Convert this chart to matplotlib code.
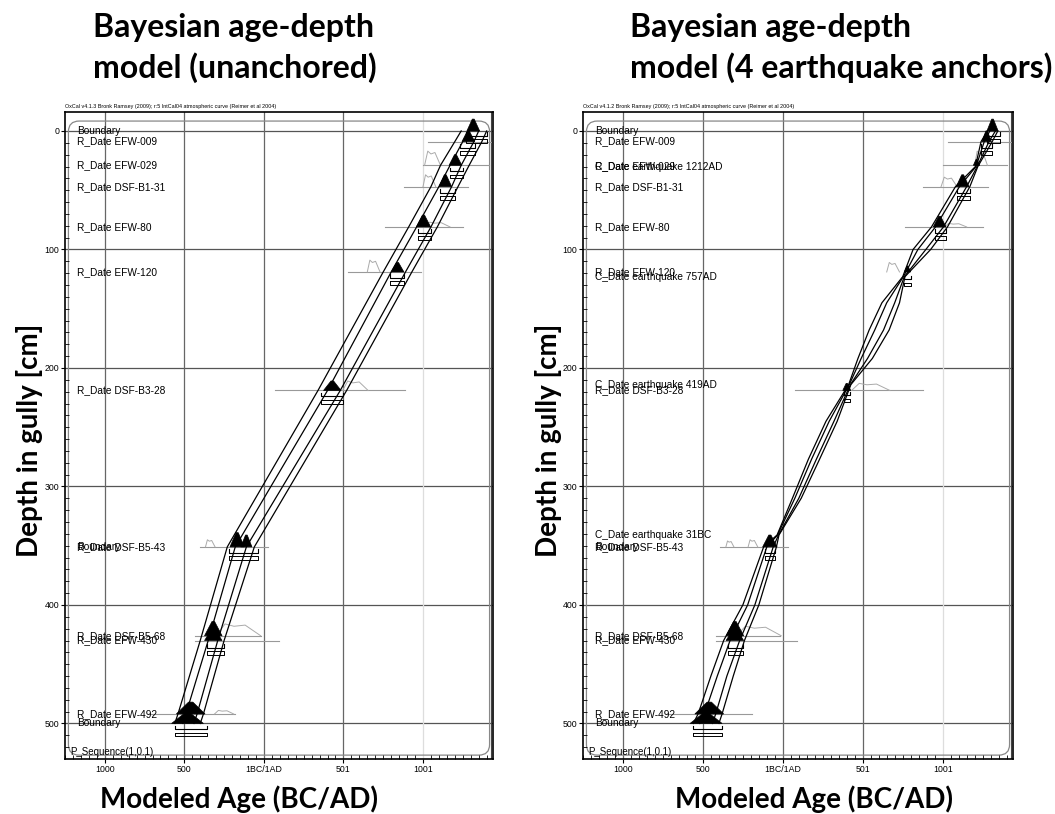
import matplotlib
matplotlib.use("Agg")
import matplotlib.pyplot as plt
from matplotlib.patches import FancyBboxPatch, Polygon

# calendar axis (0 = 1BC/1AD)
age_ticks = [-1000, -500, 0, 500, 1000]
age_tick_labels = ["1000", "500", "1BC/1AD", "501", "1001"]
depth_ticks = [0, 100, 200, 300, 400, 500]

# ---------------- left panel: unanchored ----------------
left_header = "OxCal v4.1.3 Bronk Ramsey (2009); r:5 IntCal04 atmospheric curve (Reimer et al 2004)"
left_names = ["Boundary", "R_Date EFW-009", "R_Date EFW-029", "R_Date DSF-B1-31", "R_Date EFW-80",
              "R_Date EFW-120", "R_Date DSF-B3-28", "Boundary", "R_Date DSF-B5-43",
              "R_Date DSF-B5-68", "R_Date EFW-430", "R_Date EFW-492", "Boundary"]
left_name_depth = [0, 9, 29, 47, 81, 119, 219, 351, 351, 426, 430, 492, 500]

# envelope of the age-depth model (95% / 68% bounds)
left_env_depth = [0, 9, 29, 47, 81, 119, 219, 351, 430, 492, 500]
left_lo95 = [1240, 1200, 1110, 1050, 910, 750, 340, -230, -400, -540, -560]
left_lo68 = [1290, 1250, 1170, 1100, 960, 800, 400, -180, -350, -490, -510]
left_hi68 = [1350, 1320, 1240, 1180, 1050, 890, 480, -110, -290, -420, -440]
left_hi95 = [1400, 1370, 1290, 1220, 1090, 930, 520, -60, -250, -380, -400]

# posterior peaks
left_post_depth = [0, 9, 29, 47, 81, 119, 219, 351, 351, 426, 430, 492, 500]
left_post_year = [1316, 1285, 1204, 1140, 1003, 840, 430, -168, -110, -318, -318, -460, -480]
left_post_hw = [40, 40, 40, 40, 45, 40, 55, 45, 35, 55, 55, 90, 100]
left_post_h = [10, 9, 9, 10, 10, 8, 8, 12, 10, 12, 10, 10, 9]

# likelihood ranges (grey lines) and bumps
left_lik_depth = [9, 29, 47, 81, 119, 219, 351, 426, 430, 492]
left_lik_lo = [1034, 1002, 878, 763, 530, 72, -400, -430, -430, -730]
left_lik_hi = [1442, 1412, 1286, 1254, 985, 888, 27, -20, 95, -180]
left_bump_depth = [29, 47, 81, 119, 219, 351, 426, 492]
left_bump_year = [1060, 1040, 1090, 690, 575, -337, -160, -250]
left_bump_hw = [50, 40, 80, 40, 80, 30, 140, 60]
left_bump_h = [12, 10, 4, 10, 8, 6, 10, 3]

# range brackets below posteriors
left_br_depth = [4, 14, 34, 52, 86, 124, 224, 356, 436, 505]
left_br_lo = [1270, 1230, 1170, 1110, 970, 790, 360, -220, -360, -560]
left_br_hi = [1400, 1330, 1250, 1200, 1050, 880, 500, -40, -250, -360]

# ---------------- right panel: 4 earthquake anchors ----------------
right_header = "OxCal v4.1.2 Bronk Ramsey (2009); r:5 IntCal04 atmospheric curve (Reimer et al 2004)"
right_names = ["Boundary", "R_Date EFW-009", "R_Date EFW-029", "C_Date earthquake 1212AD",
               "R_Date DSF-B1-31", "R_Date EFW-80", "R_Date EFW-120", "C_Date earthquake 757AD",
               "C_Date earthquake 419AD", "R_Date DSF-B3-28", "C_Date earthquake 31BC",
               "Boundary", "R_Date DSF-B5-43", "R_Date DSF-B5-68", "R_Date EFW-430",
               "R_Date EFW-492", "Boundary"]
right_name_depth = [0, 9, 30, 30, 47, 81, 119, 123, 214, 219, 341, 351, 351, 426, 430, 492, 500]

right_env_depth = [0, 9, 30, 47, 81, 100, 123, 145, 168, 192, 214, 245, 277, 310, 341, 351, 400, 430, 460, 492, 500]
right_lo95 = [1280, 1240, 1205, 1080, 930, 815, 750, 620, 540, 470, 412, 270, 160, 60, -36, -120, -250, -370, -450, -530, -560]
right_lo68 = [1295, 1260, 1209, 1105, 955, 845, 754, 650, 575, 490, 416, 290, 180, 75, -33, -100, -220, -330, -410, -490, -520]
right_hi68 = [1330, 1290, 1216, 1150, 1005, 895, 760, 700, 630, 530, 423, 320, 210, 100, -27, -60, -175, -270, -350, -420, -440]
right_hi95 = [1345, 1310, 1220, 1170, 1030, 925, 764, 730, 665, 560, 426, 340, 230, 115, -24, -40, -150, -240, -310, -380, -400]

right_post_depth = [0, 9, 29, 47, 81, 119, 219, 351, 426, 430, 492, 500]
right_post_year = [1312, 1275, 1212, 1125, 981, 780, 400, -81, -300, -300, -460, -480]
right_post_hw = [35, 30, 20, 40, 40, 20, 25, 45, 55, 55, 90, 100]
right_post_h = [10, 9, 5, 10, 9, 5, 6, 10, 12, 10, 10, 9]

right_lik_depth = [9, 29, 47, 81, 219, 351, 426, 430, 492]
right_lik_lo = [1031, 1000, 875, 762, 75, -394, -420, -420, -730]
right_lik_hi = [1437, 1400, 1281, 1250, 875, 31, -20, 90, -190]
right_bump_depth = [29, 47, 81, 119, 219, 351, 351, 426]
right_bump_year = [1240, 1040, 1080, 690, 550, -331, -187, -150]
right_bump_hw = [40, 50, 70, 40, 120, 25, 30, 140]
right_bump_h = [12, 8, 3, 8, 6, 5, 6, 8]

right_br_depth = [4, 14, 52, 86, 125, 223, 356, 436, 505]
right_br_lo = [1280, 1240, 1090, 950, 760, 380, -110, -340, -560]
right_br_hi = [1360, 1310, 1170, 1020, 800, 420, -50, -250, -380]

LABEL_FONT = ["Liberation Sans", "DejaVu Sans"]
TITLE_FONT = ["Lato", "DejaVu Sans"]


def draw_panel(ax, header, names, name_depth, env_depth, lo95, lo68, hi68, hi95,
               post_depth, post_year, post_hw, post_h,
               lik_depth, lik_lo, lik_hi, bump_depth, bump_year, bump_hw, bump_h,
               br_depth, br_lo, br_hi):
    ax.set_xlim(-1250, 1440)
    ax.set_ylim(530, -16)

    # grid
    for d in depth_ticks:
        ax.axhline(d, color="#555555", lw=0.9, zorder=1)
    for a in age_ticks:
        c = "#dddddd" if a == 1000 else "#666666"
        ax.axvline(a, color=c, lw=0.9, zorder=1)

    ax.set_xticks(age_ticks)
    ax.set_xticklabels(age_tick_labels, fontsize=6.3, family=LABEL_FONT)
    ax.set_xticks(range(-1250, 1450, 50), minor=True)
    ax.set_yticks(depth_ticks)
    ax.set_yticklabels([str(d) for d in depth_ticks], fontsize=6.3, family=LABEL_FONT)
    ax.set_yticks(range(0, 530, 10), minor=True)
    ax.tick_params(which="major", direction="out", length=3, width=0.8, pad=1)
    ax.tick_params(which="minor", direction="in", length=3, width=0.6)
    for s in ax.spines.values():
        s.set_linewidth(1.2)
    ax.axvline(1425, color="#444444", lw=0.8, zorder=2)

    # sequence box
    ax.add_patch(FancyBboxPatch((0.008, 0.006), 0.984, 0.98, transform=ax.transAxes,
                                boxstyle="round,pad=0,rounding_size=0.025",
                                mutation_aspect=0.66, fc="none", ec="#888888", lw=0.9, zorder=1))

    # envelope lines
    for xs in [lo95, lo68, hi68, hi95]:
        ax.plot(xs, env_depth, color="black", lw=0.9, zorder=3)

    # likelihoods
    for d, lo, hi in zip(lik_depth, lik_lo, lik_hi):
        ax.plot([lo, hi], [d, d], color="#999999", lw=0.8, zorder=2)
    for d, y, w, h in zip(bump_depth, bump_year, bump_hw, bump_h):
        ax.plot([y - w, y - 0.6 * w, y - 0.2 * w, y + 0.3 * w, y + w],
                [d, d - h, d - 0.8 * h, d - h * 0.9, d], color="#aaaaaa", lw=0.7, zorder=2)

    # posteriors
    for d, y, w, h in zip(post_depth, post_year, post_hw, post_h):
        ax.add_patch(Polygon([(y - w, d), (y - 0.15 * w, d - h), (y + 0.15 * w, d - h), (y + w, d)],
                             closed=True, fc="black", ec="black", lw=0.5, zorder=4))

    # range brackets
    for d, lo, hi in zip(br_depth, br_lo, br_hi):
        ax.plot([lo, lo, hi, hi], [d - 3, d, d, d - 3], color="black", lw=0.8, zorder=4)
        ax.plot([lo, lo, hi, hi, lo], [d + 3, d + 6, d + 6, d + 3, d + 3], color="black", lw=0.7, zorder=4)

    # names
    for t, d in zip(names, name_depth):
        ax.text(-1175, d, t, fontsize=7.3, family=LABEL_FONT, va="center", ha="left", zorder=5)
    ax.text(-1220, 524, "P_Sequence(1,0.1)", fontsize=7.0, family=LABEL_FONT, va="center", zorder=5)
    ax.text(0, 1.004, header, transform=ax.transAxes, fontsize=3.9, family=LABEL_FONT, va="bottom")


fig = plt.figure(figsize=(10.55, 8.14), dpi=100)
ax1 = fig.add_axes([65 / 1055, 1 - 759 / 814, 428 / 1055, 647 / 814])
ax2 = fig.add_axes([583 / 1055, 1 - 759 / 814, 430 / 1055, 647 / 814])

draw_panel(ax1, left_header, left_names, left_name_depth, left_env_depth,
           left_lo95, left_lo68, left_hi68, left_hi95,
           left_post_depth, left_post_year, left_post_hw, left_post_h,
           left_lik_depth, left_lik_lo, left_lik_hi,
           left_bump_depth, left_bump_year, left_bump_hw, left_bump_h,
           left_br_depth, left_br_lo, left_br_hi)
draw_panel(ax2, right_header, right_names, right_name_depth, right_env_depth,
           right_lo95, right_lo68, right_hi68, right_hi95,
           right_post_depth, right_post_year, right_post_hw, right_post_h,
           right_lik_depth, right_lik_lo, right_lik_hi,
           right_bump_depth, right_bump_year, right_bump_hw, right_bump_h,
           right_br_depth, right_br_lo, right_br_hi)

# titles and axis labels
fig.text(93 / 1055, 1 - 28 / 814, "Bayesian age-depth", fontsize=23, weight="bold", family=TITLE_FONT, va="center")
fig.text(93 / 1055, 1 - 68 / 814, "model (unanchored)", fontsize=23, weight="bold", family=TITLE_FONT, va="center")
fig.text(630 / 1055, 1 - 28 / 814, "Bayesian age-depth", fontsize=23, weight="bold", family=TITLE_FONT, va="center")
fig.text(630 / 1055, 1 - 68 / 814, "model (4 earthquake anchors)", fontsize=23, weight="bold", family=TITLE_FONT, va="center")
for xc in [30 / 1055, 548 / 1055]:
    fig.text(xc, 1 - 440 / 814, "Depth in gully [cm]", fontsize=20, weight="bold", family=TITLE_FONT,
             rotation=90, ha="center", va="center")
for xc in [239 / 1055, 814 / 1055]:
    fig.text(xc, 1 - 799 / 814, "Modeled Age (BC/AD)", fontsize=20, weight="bold", family=TITLE_FONT,
             ha="center", va="center")

fig.savefig("out.png", dpi=100)
